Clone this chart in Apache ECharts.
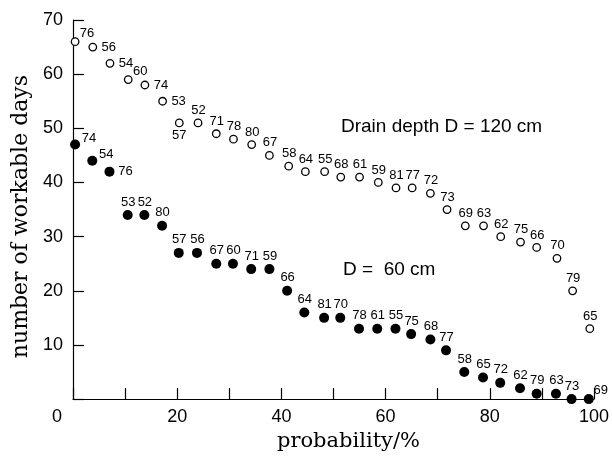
<!DOCTYPE html>
<html>
<head>
<meta charset="utf-8">
<script src="https://cdn.jsdelivr.net/npm/echarts@6/dist/echarts.min.js"></script>
<style>
html,body{margin:0;padding:0;background:#fff;}
#chart{width:612px;height:457px;}
</style>
</head>
<body>
<div id="chart"></div>
<script>
// Drain depth D = 120 cm (open circles)
const xTop = [0.4, 3.8, 7.1, 10.6, 13.8, 17.2, 20.4, 24.0, 27.5, 30.8, 34.3, 37.7, 41.4, 44.6, 48.3, 51.4, 55.0, 58.6, 62.0, 65.1, 68.6, 71.8, 75.3, 78.8, 82.1, 85.9, 89.0, 92.9, 95.9, 99.2];
const yTop = [66, 65, 62, 59, 58, 55, 51, 51, 49, 48, 47, 45, 43, 42, 42, 41, 41, 40, 39, 39, 38, 35, 32, 32, 30, 29, 28, 26, 20, 13];
const topLabels = ['76','56','54','60','74','53','57','52','71','78','80','67','58','64','55','68','61','59','81','77','72','73','69','63','62','75','66','70','79','65'];

// D = 60 cm (filled circles)
const xBottom = [0.4, 3.7, 7.0, 10.5, 13.7, 17.1, 20.3, 23.8, 27.5, 30.7, 34.2, 37.7, 41.1, 44.4, 48.2, 51.3, 54.9, 58.4, 61.9, 64.9, 68.6, 71.6, 75.1, 78.7, 82.0, 85.8, 89.0, 92.7, 95.7, 99.0];
const yBottom = [47, 44, 42, 34, 34, 32, 27, 27, 25, 25, 24, 24, 20, 16, 15, 15, 13, 13, 13, 12, 11, 9, 5, 4, 3, 2, 1, 1, 0, 0];
const bottomLabels = ['74','54','76','53','52','80','57','56','67','60','71','59','66','64','81','70','78','61','55','75','68','77','58','65','72','62','79','63','73','69'];

const xTickLabels = [0, 20, 40, 60, 80, 100];
const yTickLabels = [10, 20, 30, 40, 50, 60, 70];

// label placement codes (style, not data)
const topPlace = ['ru','r','r','ru','r','r','b'];
const bottomPlace = ['rs','rs','r'];
const bottomPlaceEnd = {29: 'ru'};
const offsets = { r:[16,0], rs:[14,-6], ru:[12,-8.5], b:[0,13], t:[0.5,-12.5], tb:[0.5,-13] };

function buildData(xs, ys, placeFn) {
  return xs.map((x, i) => ({
    value: [x, ys[i]],
    label: { offset: offsets[placeFn(i)] }
  }));
}

const sans = 'Liberation Sans, Arial, sans-serif';
const serif = 'DejaVu Serif, serif';

const chart = echarts.init(document.getElementById('chart'));
chart.setOption({
  animation: false,
  backgroundColor: '#fff',
  grid: { left: 73, right: 16, top: 20, bottom: 56, containLabel: false },
  xAxis: {
    type: 'value', min: 0, max: 100, interval: 10,
    axisLine: { lineStyle: { color: '#000', width: 1.2 } },
    axisTick: { inside: true, length: 11, lineStyle: { color: '#000', width: 1.2 } },
    splitLine: { show: false },
    axisLabel: {
      color: '#000', fontSize: 18, fontFamily: sans, margin: 9,
      formatter: v => xTickLabels.indexOf(v) < 0 ? '' : (v === 0 ? '{z|0}' : String(v)),
      rich: { z: { fontSize: 18, fontFamily: sans, color: '#000', padding: [0, 32, 0, 0] } }
    },
    name: 'probability/%', nameLocation: 'middle', nameGap: 30,
    nameTextStyle: { color: '#000', fontSize: 21, fontFamily: serif, padding: [0, 0, 0, 30] }
  },
  yAxis: {
    type: 'value', min: 0, max: 70, interval: 10,
    axisLine: { lineStyle: { color: '#000', width: 1.2 } },
    axisTick: { inside: true, length: 11, lineStyle: { color: '#000', width: 1.2 } },
    splitLine: { show: false },
    axisLabel: {
      color: '#000', fontSize: 18, fontFamily: sans, margin: 10,
      formatter: v => yTickLabels.indexOf(v) < 0 ? '' : String(v)
    },
    name: 'number of workable days', nameLocation: 'middle', nameGap: 41,
    nameTextStyle: { color: '#000', fontSize: 22, fontFamily: serif, padding: [0, 14, 0, 0] }
  },
  graphic: [
    { type: 'text', left: 341, top: 117, style: { text: 'Drain depth D = 120 cm', font: '19px ' + sans, fill: '#000' } },
    { type: 'text', left: 343, top: 260, style: { text: 'D =  60 cm', font: '19px ' + sans, fill: '#000' } }
  ],
  series: [
    {
      type: 'scatter', name: 'D = 120 cm', clip: false,
      symbol: 'circle', symbolSize: 7.5,
      itemStyle: { color: '#fff', borderColor: '#000', borderWidth: 1.3, opacity: 1 },
      label: {
        show: true, position: 'inside', color: '#000', fontSize: 13, fontFamily: sans,
        formatter: p => topLabels[p.dataIndex]
      },
      data: buildData(xTop, yTop, i => topPlace[i] || 't')
    },
    {
      type: 'scatter', name: 'D = 60 cm', clip: false,
      symbol: 'circle', symbolSize: 10,
      itemStyle: { color: '#000', opacity: 1 },
      label: {
        show: true, position: 'inside', color: '#000', fontSize: 13, fontFamily: sans,
        formatter: p => bottomLabels[p.dataIndex]
      },
      data: buildData(xBottom, yBottom, i => bottomPlace[i] || bottomPlaceEnd[i] || 'tb')
    }
  ]
});
</script>
</body>
</html>
